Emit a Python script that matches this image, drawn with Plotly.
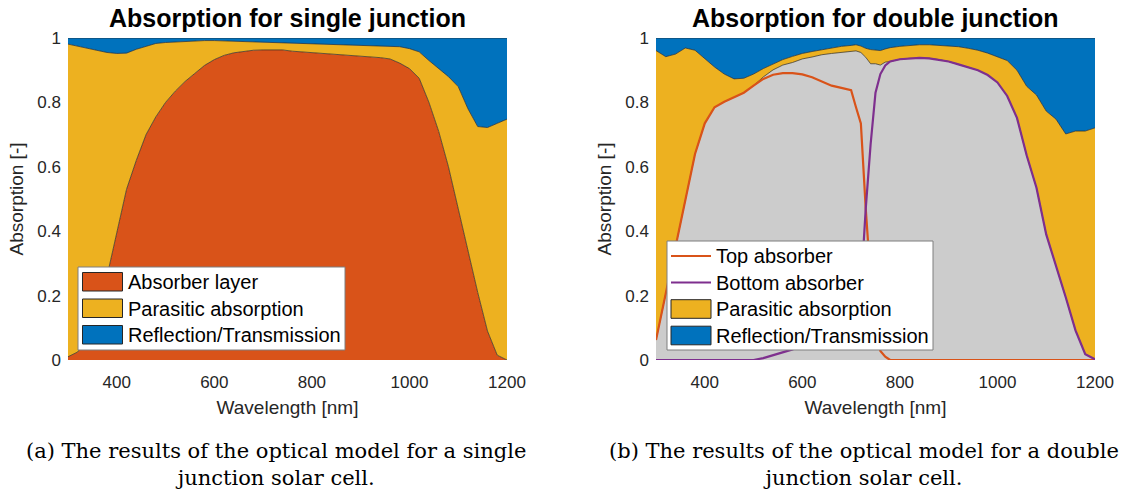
import plotly.graph_objects as go

# ---------------- data: single junction ----------------
wl_single = [300, 320, 340, 360, 380, 400, 420, 440, 460, 480, 500, 520, 540, 560, 580,
             600, 620, 640, 660, 680, 700, 720, 740, 760, 780, 800, 820, 840, 860, 880,
             900, 920, 940, 960, 980, 1000, 1020, 1040, 1060, 1080, 1100, 1120, 1140,
             1160, 1180, 1200]
absorber_single = [0.01, 0.025, 0.07, 0.16, 0.26, 0.40, 0.53, 0.62, 0.70, 0.755, 0.80, 0.835,
                   0.865, 0.89, 0.915, 0.933, 0.946, 0.954, 0.959, 0.962, 0.963, 0.963, 0.963,
                   0.959, 0.957, 0.955, 0.953, 0.951, 0.949, 0.947, 0.945, 0.942, 0.939, 0.935,
                   0.922, 0.905, 0.875, 0.80, 0.71, 0.60, 0.47, 0.335, 0.21, 0.09, 0.015, 0.0]
parasitic_single = [0.971, 0.95, 0.898, 0.802, 0.695, 0.552, 0.423, 0.345, 0.275, 0.228, 0.186,
                    0.153, 0.125, 0.101, 0.077, 0.059, 0.045, 0.036, 0.031, 0.027, 0.025, 0.024,
                    0.024, 0.027, 0.028, 0.029, 0.029, 0.030, 0.031, 0.033, 0.034, 0.036, 0.038,
                    0.041, 0.051, 0.062, 0.082, 0.13, 0.195, 0.28, 0.379, 0.445, 0.515, 0.632,
                    0.72, 0.748]
reflection_single = [0.019, 0.025, 0.032, 0.038, 0.045, 0.048, 0.047, 0.035, 0.025, 0.017, 0.014,
                     0.012, 0.01, 0.009, 0.008, 0.008, 0.009, 0.01, 0.01, 0.011, 0.012, 0.013,
                     0.013, 0.014, 0.015, 0.016, 0.018, 0.019, 0.02, 0.02, 0.021, 0.022, 0.023,
                     0.024, 0.027, 0.033, 0.043, 0.07, 0.095, 0.12, 0.151, 0.22, 0.275, 0.278,
                     0.265, 0.252]

# ---------------- data: double junction ----------------
wl_double = [300, 320, 340, 360, 380, 400, 420, 440, 460, 480, 500, 520, 540, 560, 580, 600,
             620, 640, 660, 680, 700, 710, 720, 730, 740, 750, 760, 770, 780, 800, 820, 840,
             860, 880, 900, 920, 940, 960, 980, 1000, 1020, 1040, 1060, 1080, 1100, 1120,
             1140, 1160, 1180, 1200]
top_absorber = [0.062, 0.206, 0.35, 0.49, 0.64, 0.735, 0.785, 0.802, 0.815, 0.83, 0.852, 0.873,
                0.886, 0.891, 0.891, 0.887, 0.878, 0.865, 0.852, 0.845, 0.838, 0.785, 0.735,
                0.47, 0.25, 0.09, 0.028, 0.01, 0.0, 0.0, 0.0, 0.0, 0.0, 0.0, 0.0, 0.0, 0.0,
                0.0, 0.0, 0.0, 0.0, 0.0, 0.0, 0.0, 0.0, 0.0, 0.0, 0.0, 0.0, 0.0]
bottom_absorber = [0.0, 0.0, 0.0, 0.0, 0.0, 0.0, 0.0, 0.0, 0.0, 0.0, 0.0, 0.006, 0.015, 0.025,
                   0.033, 0.048, 0.063, 0.083, 0.10, 0.11, 0.12, 0.175, 0.22, 0.47, 0.67, 0.83,
                   0.888, 0.915, 0.927, 0.934, 0.937, 0.938, 0.937, 0.933, 0.927, 0.918, 0.91,
                   0.90, 0.885, 0.862, 0.82, 0.752, 0.635, 0.535, 0.39, 0.295, 0.195, 0.092,
                   0.018, 0.002]
parasitic_double = [0.899, 0.736, 0.60, 0.479, 0.322, 0.20, 0.125, 0.086, 0.058, 0.045, 0.036,
                    0.026, 0.019, 0.017, 0.019, 0.017, 0.017, 0.015, 0.018, 0.019, 0.019, 0.019,
                    0.02, 0.028, 0.044, 0.042, 0.045, 0.041, 0.043, 0.04, 0.04, 0.041, 0.042,
                    0.044, 0.048, 0.055, 0.058, 0.062, 0.068, 0.08, 0.11, 0.148, 0.215, 0.288,
                    0.383, 0.453, 0.507, 0.619, 0.693, 0.719]
reflection_double = [0.039, 0.058, 0.05, 0.031, 0.038, 0.065, 0.09, 0.112, 0.127, 0.125, 0.112,
                     0.095, 0.08, 0.067, 0.057, 0.048, 0.042, 0.037, 0.03, 0.026, 0.023, 0.021,
                     0.025, 0.032, 0.036, 0.038, 0.039, 0.034, 0.03, 0.026, 0.023, 0.021, 0.021,
                     0.023, 0.025, 0.027, 0.032, 0.038, 0.047, 0.058, 0.07, 0.10, 0.15, 0.177,
                     0.227, 0.252, 0.298, 0.289, 0.289, 0.279]

x_ticks = [400, 600, 800, 1000, 1200]
y_ticks = [0, 0.2, 0.4, 0.6, 0.8, 1]
y_tick_text = ["0", "0.2", "0.4", "0.6", "0.8", "1"]

titles = ["Absorption for single junction", "Absorption for double junction"]
legend_single = ["Absorber layer", "Parasitic absorption", "Reflection/Transmission"]
legend_double = ["Top absorber", "Bottom absorber", "Parasitic absorption", "Reflection/Transmission"]
captions = ["(a) The results of the optical model for a single<br>junction solar cell.",
            "(b) The results of the optical model for a double<br>junction solar cell."]

# ---------------- style ----------------
RED = "#D95319"
YEL = "#EDB120"
BLU = "#0072BD"
PUR = "#7E2F8E"
GRY = "#CCCCCC"
EDGE = "#262626"
TXT = "#262626"
W, H = 1122, 495
FONT = "Liberation Sans, Arial, sans-serif"


def px(x):
    return x / W


def py(y):
    return 1 - y / H


fig = go.Figure()

# single junction stacked areas
for name, vals, col in [(legend_single[0], absorber_single, RED),
                        (legend_single[1], parasitic_single, YEL),
                        (legend_single[2], reflection_single, BLU)]:
    fig.add_trace(go.Scatter(x=wl_single, y=vals, name=name, stackgroup="s1",
                             mode="lines", line=dict(color=EDGE, width=0.7),
                             fillcolor=col, showlegend=False, xaxis="x", yaxis="y"))

# double junction stacked areas
absorbed_double = [t + b for t, b in zip(top_absorber, bottom_absorber)]
for name, vals, col in [("Absorbers", absorbed_double, GRY),
                        (legend_double[2], parasitic_double, YEL),
                        (legend_double[3], reflection_double, BLU)]:
    fig.add_trace(go.Scatter(x=wl_double, y=vals, name=name, stackgroup="s2",
                             mode="lines", line=dict(color=EDGE, width=0.7),
                             fillcolor=col, showlegend=False, xaxis="x2", yaxis="y2"))

fig.add_trace(go.Scatter(x=wl_double, y=top_absorber, name=legend_double[0], mode="lines",
                         line=dict(color=RED, width=2.2), showlegend=False,
                         xaxis="x2", yaxis="y2"))
fig.add_trace(go.Scatter(x=wl_double, y=bottom_absorber, name=legend_double[1], mode="lines",
                         line=dict(color=PUR, width=2.2), showlegend=False,
                         xaxis="x2", yaxis="y2"))

axis_common = dict(showgrid=False, zeroline=False, showline=False, ticks="",
                   automargin=False,
                   tickfont=dict(family=FONT, size=17, color=TXT))
xa = dict(axis_common, range=[300, 1200], tickvals=x_ticks, ticklabelstandoff=10,
          title=dict(text="Wavelength [nm]", font=dict(family=FONT, size=19, color=TXT),
                     standoff=9))
ya = dict(axis_common, range=[0, 1], tickvals=y_ticks, ticktext=y_tick_text,
          ticklabelstandoff=6,
          title=dict(text="Absorption [-]", font=dict(family=FONT, size=19, color=TXT),
                     standoff=8))

fig.update_layout(
    width=W, height=H,
    margin=dict(l=0, r=0, t=0, b=0, autoexpand=False),
    paper_bgcolor="white", plot_bgcolor="white",
    hovermode=False,
    xaxis=dict(xa, domain=[px(68), px(507)], anchor="y"),
    yaxis=dict(ya, domain=[py(360), py(38)], anchor="x"),
    xaxis2=dict(xa, domain=[px(656), px(1095)], anchor="y2"),
    yaxis2=dict(ya, domain=[py(360), py(38)], anchor="x2"),
)

shapes = []
annos = []

# titles
for txt, cx in zip(titles, [287, 875]):
    annos.append(dict(text="<b>%s</b>" % txt, x=px(cx), y=py(18), xref="paper", yref="paper",
                      showarrow=False, xanchor="center", yanchor="middle",
                      font=dict(family=FONT, size=25, color="black")))

# legend: single junction
shapes.append(dict(type="rect", xref="paper", yref="paper", x0=px(78), x1=px(345),
                   y0=py(350), y1=py(267), fillcolor="white",
                   line=dict(color="#7f7f7f", width=1), layer="above"))
for i, (lab, col) in enumerate(zip(legend_single, [RED, YEL, BLU])):
    top = 272.5 + i * 26.5
    shapes.append(dict(type="rect", xref="paper", yref="paper", x0=px(82.5), x1=px(122.5),
                       y0=py(top + 18.5), y1=py(top), fillcolor=col,
                       line=dict(color=EDGE, width=1), layer="above"))
    annos.append(dict(text=lab, x=px(126), y=py(top + 9.5), xref="paper", yref="paper",
                      showarrow=False, xanchor="left", yanchor="middle",
                      font=dict(family=FONT, size=20, color="black")))

# legend: double junction
shapes.append(dict(type="rect", xref="paper", yref="paper", x0=px(667), x1=px(933),
                   y0=py(350), y1=py(241), fillcolor="white",
                   line=dict(color="#7f7f7f", width=1), layer="above"))
for i, (lab, col) in enumerate(zip(legend_double, [RED, PUR, YEL, BLU])):
    cy = 256 + i * 26.5
    if i < 2:
        shapes.append(dict(type="line", xref="paper", yref="paper", x0=px(671), x1=px(711),
                           y0=py(cy), y1=py(cy), line=dict(color=col, width=2.2),
                           layer="above"))
    else:
        shapes.append(dict(type="rect", xref="paper", yref="paper", x0=px(671), x1=px(711),
                           y0=py(cy + 9.3), y1=py(cy - 9.3), fillcolor=col,
                           line=dict(color=EDGE, width=1), layer="above"))
    annos.append(dict(text=lab, x=px(714), y=py(cy), xref="paper", yref="paper",
                      showarrow=False, xanchor="left", yanchor="middle",
                      font=dict(family=FONT, size=20, color="black")))

# captions
for txt, cx in zip(captions, [276, 864]):
    annos.append(dict(text=txt, x=px(cx), y=py(464), xref="paper", yref="paper",
                      showarrow=False, xanchor="center", yanchor="middle", align="center",
                      font=dict(family="DejaVu Serif, serif", size=21, color="black")))

fig.update_layout(shapes=shapes, annotations=annos)
fig.write_html("out.html",
               config={"displayModeBar": False, "staticPlot": True},
               post_script="document.body.style.margin='0px';document.body.style.overflow='hidden';")
